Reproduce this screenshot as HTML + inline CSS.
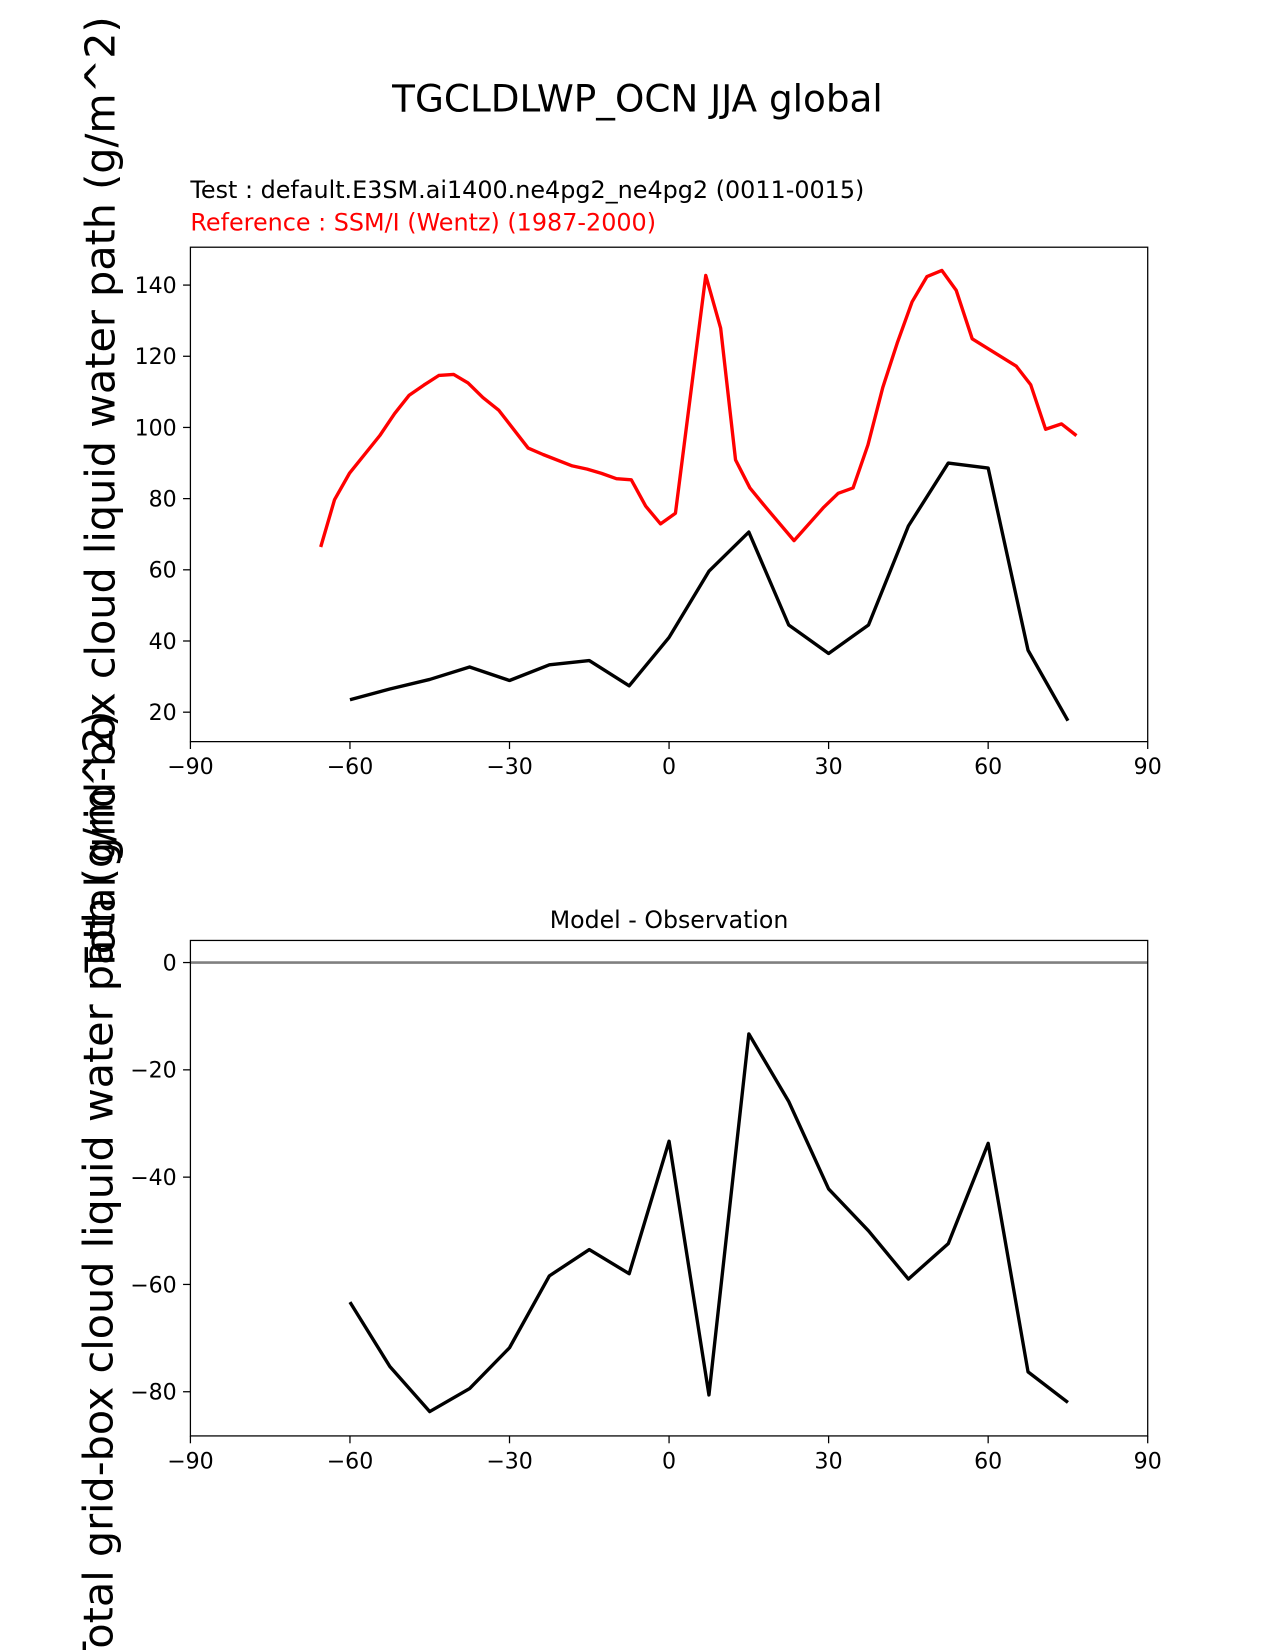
<!DOCTYPE html>
<html><head><meta charset="utf-8"><style>
body{margin:0;background:#fff}
svg{display:block;font-family:"DejaVu Sans","Liberation Sans",sans-serif}
</style></head><body>
<svg id="chart" width="1275" height="1650" viewBox="0 0 1212 1568.5" preserveAspectRatio="none" xmlns="http://www.w3.org/2000/svg">
<text x="606" y="106" font-size="35.5" text-anchor="middle">TGCLDLWP_OCN JJA global</text>
<text x="181" y="188" font-size="22.7">Test : default.E3SM.ai1400.ne4pg2_ne4pg2 (0011-0015)</text>
<text x="181" y="219" font-size="22.7" fill="#ff0000">Reference : SSM/I (Wentz) (1987-2000)</text>
<text x="636" y="882" font-size="22.5" text-anchor="middle">Model - Observation</text>
<text transform="translate(109,470) rotate(-90)" font-size="39.3" text-anchor="middle">Total grid-box cloud liquid water path (g/m^2)</text>
<text transform="translate(107,1130) rotate(-90)" font-size="39.3" text-anchor="middle">Total grid-box cloud liquid water path (g/m^2)</text>
<g id="top"></g><g id="bot"></g>
</svg>
<script>
const refLat=[-65.5,-62.9,-60.1,-54.4,-51.6,-48.9,-46.1,-43.3,-40.5,-37.8,-35,-32,-26.5,-23.7,-18.2,-15.4,-12.7,-9.9,-7.1,-4.4,-1.6,1.2,6.9,9.7,12.5,15.2,18,23.5,29.1,31.8,34.6,37.4,40.2,42.9,45.7,48.5,51.3,54,57,65.3,68,70.8,73.8,76.6];
const refVal=[66.4,79.7,87.1,97.7,103.9,109,111.9,114.6,114.9,112.5,108.4,104.8,94.2,92.4,89.2,88.3,87.1,85.6,85.3,77.9,72.9,75.9,142.7,127.9,90.9,83.0,77.9,68.2,77.6,81.5,83.0,95.1,111.3,123.7,135.3,142.4,144.1,138.5,124.9,117.2,112,99.5,101,97.7];
const testLat=[-60,-52.5,-45,-37.5,-30,-22.5,-15,-7.5,0,7.5,15,22.5,30,37.5,45,52.5,60,67.5,75];
const testVal=[23.5,26.5,29.2,32.7,28.9,33.3,34.5,27.4,41.0,59.6,70.6,44.5,36.5,44.5,72.3,90.0,88.6,37.4,17.6];
const diffVal=[-63.3,-75.3,-83.7,-79.4,-71.8,-58.4,-53.5,-58.0,-33.3,-80.6,-13.3,-25.9,-42.2,-50.0,-59.0,-52.4,-33.7,-76.3,-82.0];
const xTicks=[-90,-60,-30,0,30,60,90];
const topYTicks=[20,40,60,80,100,120,140];
const botYTicks=[0,-20,-40,-60,-80];
const NS='http://www.w3.org/2000/svg';
function mk(p,tag,a){const e=document.createElementNS(NS,tag);for(const k in a)e.setAttribute(k,a[k]);p.appendChild(e);return e;}
const X=v=>636+v*(910/180);
function panel(g,top,bot,yfn,yticks,name){
  for(const t of xTicks){const l=mk(g,'line',{x1:X(t),x2:X(t),y1:bot,y2:bot+7,stroke:'#000','stroke-width':1.2});
    
    
    const tx=mk(g,'text',{x:X(t),y:bot+31,'font-size':21,'text-anchor':'middle'});tx.textContent=(t<0?'\u2212'+(-t):t);
    
    }
  for(const t of yticks){const y=yfn(t);const l=mk(g,'line',{x1:174,x2:181,y1:y,y2:y,stroke:'#000','stroke-width':1.2});
    
    
    const tx=mk(g,'text',{x:168,y:y+7.5,'font-size':21,'text-anchor':'end'});tx.textContent=(t<0?'\u2212'+(-t):t);
    
    }
}
function line(g,xs,ys,yfn,col,name){const p=mk(g,'polyline',{points:xs.map((x,i)=>X(x)+','+yfn(ys[i])).join(' '),fill:'none',stroke:col,'stroke-width':3.2,'stroke-linejoin':'round'});
  
  }
const gt=document.getElementById('top');
const Yt=v=>271+(140-v)*(406/120);
panel(gt,235,705,Yt,topYTicks,'top');
line(gt,refLat,refVal,Yt,'#ff0000','reference-line');
line(gt,testLat,testVal,Yt,'#000','test-line');
const ft=mk(gt,'rect',{x:181,y:235,width:910,height:470,fill:'none',stroke:'#000','stroke-width':1.2});


const gb=document.getElementById('bot');
const Yb=v=>915-v*(408/80);
panel(gb,894,1365,Yb,botYTicks,'bottom');
const z=mk(gb,'line',{x1:181,x2:1091,y1:Yb(0),y2:Yb(0),stroke:'#808080','stroke-width':2.5});


line(gb,testLat,diffVal,Yb,'#000','difference-line');
const fb=mk(gb,'rect',{x:181,y:894,width:910,height:471,fill:'none',stroke:'#000','stroke-width':1.2});


</script>
</body></html>
